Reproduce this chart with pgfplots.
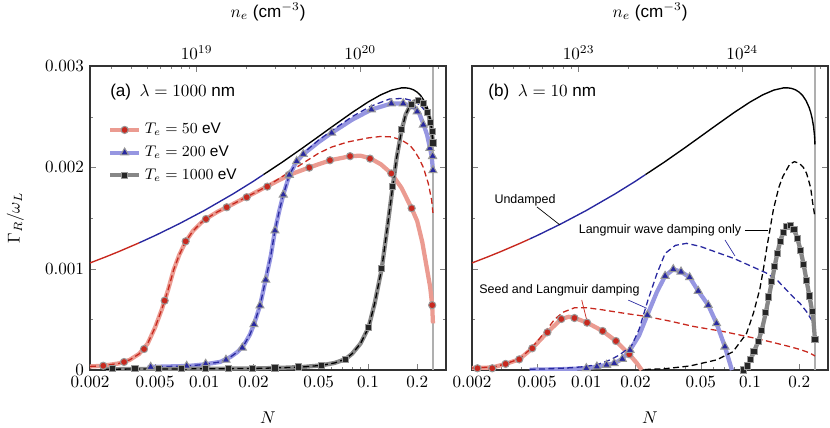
\documentclass[border=0pt]{standalone}
\usepackage{fontspec}
\setmainfont{Liberation Sans}
\usepackage{pgfplots}
\pgfplotsset{compat=1.18}
\definecolor{dred}{RGB}{200,40,30}
\definecolor{dblue}{RGB}{40,40,160}
\definecolor{lred}{RGB}{235,155,145}
\definecolor{lblue}{RGB}{150,150,225}
\definecolor{lgray}{RGB}{135,135,135}
\definecolor{vline}{RGB}{175,175,175}
\pgfplotsset{
  panel/.style={scale only axis, width=208.26pt, height=177.84pt,
    xmin=0.002, xmax=0.3, ymin=0, ymax=0.003, scaled y ticks=false,
    xtick={0.002,0.005,0.01,0.02,0.05,0.1,0.2},
    xticklabels={$0.002$,$0.005$,$0.01$,$0.02$,$0.05$,$0.1$,$0.2$},
    minor xtick={0.003,0.004,0.006,0.007,0.008,0.009,0.03,0.04,0.06,0.07,0.08,0.09,0.3},
    ytick={0,0.001,0.002,0.003}, minor ytick={0.0005,0.0015,0.0025},
    xtick pos=left, tick align=inside,
    major tick length=3.5pt, minor tick length=2pt,
    axis line style={line width=0.6pt, black!80},
    xlabel={$N$}, xlabel style={at={(axis description cs:0.5,-0.158)}, anchor=center},
  },
  topax/.style={scale only axis, width=208.26pt, height=177.84pt,
    axis x line*=top, axis y line=none, ymin=0, ymax=1,
    tick align=inside, major tick length=3.5pt, minor tick length=2pt,
    axis line style={line width=0.6pt, black!80},
    xlabel={$n_e$ (cm$^{-3}$)},
    xlabel style={at={(axis description cs:0.5,1.178)}, anchor=center},
  },
  thk/.style={line width=2.5pt, forget plot},
  dsh/.style={line width=0.75pt, dash pattern=on 3.5pt off 2pt, forget plot},
  und/.style={line width=0.8pt, forget plot},
  rmk/.style={only marks, mark=*, mark size=2.1pt, mark options={fill=dred, draw=black!40, line width=0.6pt, solid}, forget plot},
  bmk/.style={only marks, mark=triangle*, mark size=2.7pt, mark options={fill=dblue, draw=black!40, line width=0.6pt, solid}, forget plot},
  kmk/.style={only marks, mark=square*, mark size=1.8pt, mark options={fill=black!85, draw=black!40, line width=0.6pt, solid}, forget plot},
}
\begin{document}
\begin{tikzpicture}
\useasboundingbox (-52.65pt,-33.35pt) rectangle (432.9pt,216.45pt);
% ---------------- panel (a)
\begin{semilogxaxis}[panel, at={(0,0)}, anchor=south west,
  yticklabels={$0$,$0.001$,$0.002$,$0.003$},
  ylabel={$\Gamma_R/\omega_L$}, ylabel style={at={(axis description cs:-0.21,0.5)}, anchor=center},
  legend style={at={(axis description cs:0.035,0.835)}, anchor=north west, draw=none, fill=none,
    font=\fontsize{9}{10}\selectfont, row sep=1.6pt},
  legend cell align=left]
\addplot[vline, line width=1.1pt, forget plot] coordinates {(0.25,0) (0.25,0.003)};
% 50 eV
\addplot[thk, lred] coordinates {(0.002,0.035e-3)(0.0024,0.042e-3)(0.003,0.065e-3)(0.0035,0.10e-3)(0.004,0.16e-3)(0.0045,0.26e-3)(0.005,0.42e-3)(0.0055,0.60e-3)(0.006,0.79e-3)(0.0065,0.99e-3)(0.007,1.13e-3)(0.0077,1.27e-3)(0.0085,1.37e-3)(0.0095,1.45e-3)(0.0102,1.49e-3)(0.012,1.56e-3)(0.0137,1.606e-3)(0.018,1.705e-3)(0.024,1.81e-3)(0.033,1.925e-3)(0.044,2.0e-3)(0.059,2.07e-3)(0.078,2.11e-3)(0.09,2.115e-3)(0.103,2.09e-3)(0.12,2.03e-3)(0.139,1.94e-3)(0.16,1.80e-3)(0.185,1.596e-3)(0.2,1.47e-3)(0.215,1.26e-3)(0.23,0.99e-3)(0.24,0.82e-3)(0.247,0.64e-3)(0.2497,0.46e-3)};
\addplot[dsh, dred] coordinates {(0.002,0.035e-3)(0.0024,0.042e-3)(0.003,0.065e-3)(0.0035,0.10e-3)(0.004,0.16e-3)(0.0045,0.26e-3)(0.005,0.42e-3)(0.0055,0.60e-3)(0.006,0.79e-3)(0.0065,0.99e-3)(0.007,1.13e-3)(0.0077,1.27e-3)(0.0085,1.37e-3)(0.0095,1.45e-3)(0.0102,1.49e-3)(0.012,1.56e-3)(0.0137,1.606e-3)(0.018,1.705e-3)(0.024,1.81e-3)(0.03,1.91e-3)(0.04,2.04e-3)(0.05,2.14e-3)(0.06,2.20e-3)(0.075,2.25e-3)(0.1,2.29e-3)(0.12,2.305e-3)(0.14,2.30e-3)(0.16,2.27e-3)(0.18,2.22e-3)(0.193,2.16e-3)(0.205,2.09e-3)(0.218,2.0e-3)(0.234,1.84e-3)(0.245,1.68e-3)(0.2497,1.55e-3)};
% 200 eV
\addplot[thk, lblue] coordinates {(0.0045,0.03e-3)(0.008,0.04e-3)(0.01,0.055e-3)(0.0125,0.08e-3)(0.0145,0.13e-3)(0.016,0.18e-3)(0.0175,0.25e-3)(0.019,0.35e-3)(0.0201,0.45e-3)(0.0219,0.635e-3)(0.0237,0.89e-3)(0.0255,1.13e-3)(0.027,1.375e-3)(0.0287,1.57e-3)(0.0304,1.73e-3)(0.0331,1.925e-3)(0.0367,2.06e-3)(0.0403,2.13e-3)(0.05,2.25e-3)(0.06,2.34e-3)(0.08,2.47e-3)(0.105,2.57e-3)(0.139,2.63e-3)(0.164,2.63e-3)(0.189,2.60e-3)(0.205,2.54e-3)(0.218,2.43e-3)(0.23,2.32e-3)(0.2394,2.19e-3)(0.2453,2.11e-3)(0.2497,1.97e-3)};
\addplot[dsh, dblue] coordinates {(0.0045,0.03e-3)(0.008,0.04e-3)(0.01,0.055e-3)(0.0125,0.08e-3)(0.0145,0.13e-3)(0.016,0.18e-3)(0.0175,0.25e-3)(0.019,0.35e-3)(0.0201,0.45e-3)(0.0219,0.635e-3)(0.0237,0.89e-3)(0.0255,1.13e-3)(0.027,1.375e-3)(0.0287,1.57e-3)(0.0304,1.73e-3)(0.0331,1.925e-3)(0.0367,2.06e-3)(0.0403,2.14e-3)(0.05,2.27e-3)(0.06,2.36e-3)(0.08,2.50e-3)(0.103,2.60e-3)(0.136,2.675e-3)(0.165,2.68e-3)(0.19,2.655e-3)(0.208,2.615e-3)(0.222,2.565e-3)(0.234,2.50e-3)(0.245,2.34e-3)(0.2497,2.2e-3)};
% 1000 eV
\addplot[thk, lgray] coordinates {(0.0025,0.008e-3)(0.005,0.01e-3)(0.01,0.012e-3)(0.02,0.015e-3)(0.03,0.022e-3)(0.04,0.03e-3)(0.052,0.046e-3)(0.0627,0.07e-3)(0.0727,0.106e-3)(0.08,0.16e-3)(0.09,0.26e-3)(0.1009,0.42e-3)(0.11,0.66e-3)(0.1214,1.0e-3)(0.13,1.35e-3)(0.1417,1.81e-3)(0.15,2.1e-3)(0.1608,2.37e-3)(0.17,2.52e-3)(0.181,2.61e-3)(0.192,2.65e-3)(0.203,2.66e-3)(0.213,2.645e-3)(0.223,2.61e-3)(0.234,2.53e-3)(0.2394,2.46e-3)(0.2453,2.37e-3)(0.2497,2.24e-3)};
\addplot[dsh, black] coordinates {(0.0025,0.008e-3)(0.005,0.01e-3)(0.01,0.012e-3)(0.02,0.015e-3)(0.03,0.022e-3)(0.04,0.03e-3)(0.052,0.046e-3)(0.0627,0.07e-3)(0.0727,0.106e-3)(0.08,0.16e-3)(0.09,0.26e-3)(0.1009,0.42e-3)(0.11,0.66e-3)(0.1214,1.0e-3)(0.13,1.35e-3)(0.1417,1.81e-3)(0.15,2.1e-3)(0.1608,2.37e-3)(0.17,2.52e-3)(0.181,2.61e-3)(0.192,2.65e-3)(0.203,2.66e-3)(0.213,2.645e-3)(0.223,2.61e-3)(0.234,2.53e-3)(0.2394,2.46e-3)(0.2453,2.37e-3)(0.2497,2.24e-3)};
% undamped
\addplot[und, dred] coordinates {(0.002,1.0565e-3)(0.0025,1.1169e-3)(0.003,1.1687e-3)(0.004,1.2554e-3)};
\addplot[und, dblue] coordinates {(0.004,1.2554e-3)(0.005,1.3269e-3)(0.007,1.4421e-3)(0.01,1.5745e-3)(0.015,1.7385e-3)(0.02,1.8637e-3)(0.023,1.9287e-3)};
\addplot[und, black] coordinates {(0.023,1.9287e-3)(0.03,2.0520e-3)(0.04,2.1930e-3)(0.05,2.3052e-3)(0.06,2.3975e-3)(0.08,2.5406e-3)(0.1,2.6436e-3)(0.12,2.7161e-3)(0.14,2.7624e-3)(0.16,2.7837e-3)(0.17,2.7847e-3)(0.18,2.7786e-3)(0.19,2.7648e-3)(0.2,2.7419e-3)(0.21,2.7081e-3)(0.22,2.6599e-3)(0.23,2.5909e-3)(0.235,2.5442e-3)(0.24,2.4841e-3)(0.245,2.3987e-3)(0.248,2.3170e-3)(0.249,2.2738e-3)(0.2497,2.2254e-3)};
% markers
\addplot[rmk] coordinates {(0.00241,0.042e-3)(0.00323,0.079e-3)(0.00428,0.207e-3)(0.00572,0.684e-3)(0.00769,1.27e-3)(0.01023,1.49e-3)(0.0137,1.606e-3)(0.01815,1.705e-3)(0.02424,1.81e-3)(0.0328,1.925e-3)(0.0438,1.997e-3)(0.0586,2.07e-3)(0.0778,2.11e-3)(0.103,2.086e-3)(0.139,1.94e-3)(0.185,1.596e-3)(0.247,0.64e-3)};
\addplot[bmk] coordinates {(0.0047,0.03e-3)(0.0078,0.04e-3)(0.01019,0.06e-3)(0.01356,0.10e-3)(0.01706,0.22e-3)(0.02011,0.45e-3)(0.02188,0.635e-3)(0.02372,0.89e-3)(0.02703,1.375e-3)(0.03038,1.73e-3)(0.03306,1.925e-3)(0.03668,2.06e-3)(0.04026,2.13e-3)(0.06004,2.34e-3)(0.105,2.57e-3)(0.139,2.63e-3)(0.1644,2.63e-3)(0.1894,2.60e-3)(0.2,2.55e-3)(0.218,2.42e-3)(0.2394,2.19e-3)(0.2485,2.11e-3)(0.2497,1.97e-3)};
\addplot[kmk] coordinates {(0.002754,0.015e-3)(0.003768,0.015e-3)(0.00523,0.015e-3)(0.00727,0.015e-3)(0.01019,0.015e-3)(0.01401,0.015e-3)(0.01964,0.017e-3)(0.02703,0.02e-3)(0.03752,0.03e-3)(0.05218,0.046e-3)(0.0727,0.106e-3)(0.1009,0.42e-3)(0.1214,1.0e-3)(0.1417,1.81e-3)(0.1608,2.37e-3)(0.185,2.62e-3)(0.203,2.66e-3)(0.218,2.63e-3)(0.232,2.54e-3)(0.242,2.44e-3)(0.247,2.35e-3)(0.2497,2.24e-3)};
% legend
\addlegendimage{lred, line width=2.5pt, mark=*, mark size=2.1pt, mark options={fill=dred, draw=black!40, line width=0.6pt}}
\addlegendentry{$T_e = 50$ eV}
\addlegendimage{lblue, line width=2.5pt, mark=triangle*, mark size=2.7pt, mark options={fill=dblue, draw=black!40, line width=0.6pt}}
\addlegendentry{$T_e = 200$ eV}
\addlegendimage{lgray, line width=2.5pt, mark=square*, mark size=1.8pt, mark options={fill=black!85, draw=black!40, line width=0.6pt}}
\addlegendentry{$T_e = 1000$ eV}
\node[anchor=west, inner sep=0pt] at (axis description cs:0.056,0.914) {(a)\hspace{5pt}$\lambda = 1000$ nm};
\end{semilogxaxis}
\begin{semilogxaxis}[topax, at={(0,0)}, anchor=south west, xmin=2.23e18, xmax=3.345e20,
  xtick={1e19,1e20},
  minor xtick={3e18,4e18,5e18,6e18,7e18,8e18,9e18,2e19,3e19,4e19,5e19,6e19,7e19,8e19,9e19,2e20,3e20}]
\addplot[draw=none] coordinates {(1e19,0.5)};
\end{semilogxaxis}
% ---------------- panel (b)
\begin{semilogxaxis}[panel, at={(223.47pt,0)}, anchor=south west, yticklabels={}]
\addplot[vline, line width=1.1pt, forget plot] coordinates {(0.25,0) (0.25,0.003)};
% 50 eV
\addplot[thk, lred] coordinates {(0.002,0.02e-3)(0.00216,0.02e-3)(0.00266,0.025e-3)(0.00321,0.06e-3)(0.00389,0.105e-3)(0.00467,0.214e-3)(0.00578,0.372e-3)(0.00703,0.503e-3)(0.0078,0.525e-3)(0.00846,0.515e-3)(0.0101,0.467e-3)(0.01258,0.385e-3)(0.01517,0.286e-3)(0.0183,0.155e-3)(0.0203,0.07e-3)(0.0218,0.0)};
\addplot[dsh, dred] coordinates {(0.002,0.02e-3)(0.0027,0.03e-3)(0.0032,0.06e-3)(0.0039,0.11e-3)(0.0045,0.2e-3)(0.005,0.28e-3)(0.0058,0.41e-3)(0.0064,0.50e-3)(0.0072,0.57e-3)(0.0085,0.615e-3)(0.01,0.615e-3)(0.0124,0.595e-3)(0.017,0.56e-3)(0.0238,0.526e-3)(0.033,0.48e-3)(0.0451,0.43e-3)(0.0687,0.38e-3)(0.11,0.31e-3)(0.14,0.27e-3)(0.1757,0.23e-3)(0.2,0.205e-3)(0.222,0.18e-3)(0.24,0.155e-3)(0.2497,0.138e-3)};
% 200 eV
\addplot[thk, lblue] coordinates {(0.0045,0.003e-3)(0.007,0.008e-3)(0.01,0.017e-3)(0.0116,0.033e-3)(0.0133,0.05e-3)(0.0148,0.066e-3)(0.0166,0.109e-3)(0.0185,0.197e-3)(0.021,0.34e-3)(0.0236,0.543e-3)(0.027,0.77e-3)(0.0303,0.928e-3)(0.034,0.994e-3)(0.0379,0.97e-3)(0.0428,0.915e-3)(0.0483,0.78e-3)(0.0556,0.64e-3)(0.0625,0.46e-3)(0.0703,0.23e-3)(0.0776,0.0)};
\addplot[dsh, dblue] coordinates {(0.0045,0.006e-3)(0.006,0.012e-3)(0.008,0.022e-3)(0.01,0.035e-3)(0.012,0.06e-3)(0.014,0.1e-3)(0.016,0.15e-3)(0.0189,0.24e-3)(0.021,0.40e-3)(0.0238,0.69e-3)(0.027,0.95e-3)(0.0303,1.15e-3)(0.035,1.23e-3)(0.041,1.25e-3)(0.0496,1.22e-3)(0.061,1.168e-3)(0.08,1.10e-3)(0.1,1.03e-3)(0.125,0.96e-3)(0.146,0.89e-3)(0.165,0.80e-3)(0.184,0.72e-3)(0.2023,0.658e-3)(0.222,0.575e-3)(0.245,0.46e-3)(0.2497,0.43e-3)};
% 1000 eV
\addplot[thk, lgray] coordinates {(0.0909,0.0)(0.0961,0.04e-3)(0.1006,0.1e-3)(0.1058,0.18e-3)(0.1122,0.28e-3)(0.118,0.39e-3)(0.125,0.565e-3)(0.1305,0.72e-3)(0.136,0.87e-3)(0.1415,1.02e-3)(0.147,1.15e-3)(0.153,1.27e-3)(0.16,1.36e-3)(0.168,1.415e-3)(0.177,1.425e-3)(0.186,1.385e-3)(0.195,1.30e-3)(0.204,1.18e-3)(0.213,1.04e-3)(0.222,0.88e-3)(0.231,0.73e-3)(0.24,0.58e-3)(0.245,0.47e-3)(0.2497,0.30e-3)};
\addplot[dsh, black] coordinates {(0.0228,0.005e-3)(0.03,0.012e-3)(0.043,0.04e-3)(0.0626,0.1e-3)(0.0787,0.18e-3)(0.0953,0.36e-3)(0.105,0.56e-3)(0.115,0.80e-3)(0.121,1.0e-3)(0.1266,1.2e-3)(0.139,1.58e-3)(0.15,1.8e-3)(0.159,1.91e-3)(0.175,2.03e-3)(0.187,2.056e-3)(0.2,2.04e-3)(0.212,2.0e-3)(0.222,1.94e-3)(0.235,1.8e-3)(0.242,1.645e-3)(0.2497,1.51e-3)};
% undamped
\addplot[und, dred] coordinates {(0.002,1.0565e-3)(0.0025,1.1169e-3)(0.003,1.1687e-3)(0.004,1.2554e-3)(0.0045,1.293e-3)};
\addplot[und, dblue] coordinates {(0.0045,1.293e-3)(0.005,1.3269e-3)(0.007,1.4421e-3)(0.01,1.5745e-3)(0.015,1.7385e-3)(0.02,1.8637e-3)(0.023,1.9287e-3)};
\addplot[und, black] coordinates {(0.023,1.9287e-3)(0.03,2.0520e-3)(0.04,2.1930e-3)(0.05,2.3052e-3)(0.06,2.3975e-3)(0.08,2.5406e-3)(0.1,2.6436e-3)(0.12,2.7161e-3)(0.14,2.7624e-3)(0.16,2.7837e-3)(0.17,2.7847e-3)(0.18,2.7786e-3)(0.19,2.7648e-3)(0.2,2.7419e-3)(0.21,2.7081e-3)(0.22,2.6599e-3)(0.23,2.5909e-3)(0.235,2.5442e-3)(0.24,2.4841e-3)(0.245,2.3987e-3)(0.248,2.3170e-3)(0.249,2.2738e-3)(0.2497,2.2254e-3)};
% markers
\addplot[rmk] coordinates {(0.00216,0.017e-3)(0.00266,0.017e-3)(0.00321,0.06e-3)(0.00389,0.105e-3)(0.00467,0.214e-3)(0.00578,0.372e-3)(0.00703,0.503e-3)(0.00846,0.513e-3)(0.0101,0.467e-3)(0.01258,0.385e-3)(0.01517,0.286e-3)(0.0183,0.155e-3)};
\addplot[bmk] coordinates {(0.0100,0.017e-3)(0.0116,0.033e-3)(0.0133,0.05e-3)(0.0148,0.066e-3)(0.0166,0.109e-3)(0.0185,0.197e-3)(0.0236,0.543e-3)(0.0303,0.928e-3)(0.034,0.994e-3)(0.0379,0.97e-3)(0.0428,0.915e-3)(0.0483,0.78e-3)(0.0556,0.64e-3)(0.0625,0.46e-3)(0.0703,0.23e-3)};
\addplot[kmk] coordinates {(0.0909,0.0)(0.0961,0.04e-3)(0.1006,0.1e-3)(0.1058,0.18e-3)(0.1122,0.28e-3)(0.118,0.39e-3)(0.125,0.565e-3)(0.1305,0.72e-3)(0.136,0.87e-3)(0.1415,1.02e-3)(0.147,1.15e-3)(0.153,1.27e-3)(0.16,1.36e-3)(0.168,1.415e-3)(0.177,1.425e-3)(0.186,1.385e-3)(0.195,1.30e-3)(0.204,1.18e-3)(0.213,1.04e-3)(0.222,0.88e-3)(0.231,0.73e-3)(0.24,0.58e-3)(0.2497,0.30e-3)};
% annotations
\node[anchor=west, inner sep=0pt] at (axis description cs:0.045,0.914) {(b)\hspace{5pt}$\lambda = 10$ nm};
\node[font=\fontsize{7.3}{8}\selectfont, inner sep=1pt] at (axis cs:0.00422,1.678e-3) {Undamped};
\draw[black, line width=0.4pt] (axis cs:0.00499,1.609e-3) -- (axis cs:0.0069,1.431e-3);
\node[font=\fontsize{7.3}{8}\selectfont, inner sep=1pt] at (axis cs:0.0282,1.382e-3) {Langmuir wave damping only};
\draw[black, line width=0.4pt] (axis cs:0.0932,1.375e-3) -- (axis cs:0.129,1.375e-3);
\draw[dblue, line width=0.4pt] (axis cs:0.0704,1.283e-3) -- (axis cs:0.081,1.125e-3);
\node[font=\fontsize{7.3}{8}\selectfont, inner sep=1pt] at (axis cs:0.00685,0.79e-3) {Seed and Langmuir damping};
\draw[dred, line width=0.4pt] (axis cs:0.00937,0.691e-3) -- (axis cs:0.01005,0.494e-3);
\draw[dblue, line width=0.4pt] (axis cs:0.01804,0.69e-3) -- (axis cs:0.02338,0.609e-3);
\end{semilogxaxis}
\begin{semilogxaxis}[topax, at={(223.47pt,0)}, anchor=south west, xmin=2.23e22, xmax=3.345e24,
  xtick={1e23,1e24},
  minor xtick={3e22,4e22,5e22,6e22,7e22,8e22,9e22,2e23,3e23,4e23,5e23,6e23,7e23,8e23,9e23,2e24,3e24}]
\addplot[draw=none] coordinates {(1e23,0.5)};
\end{semilogxaxis}
\end{tikzpicture}
\end{document}
